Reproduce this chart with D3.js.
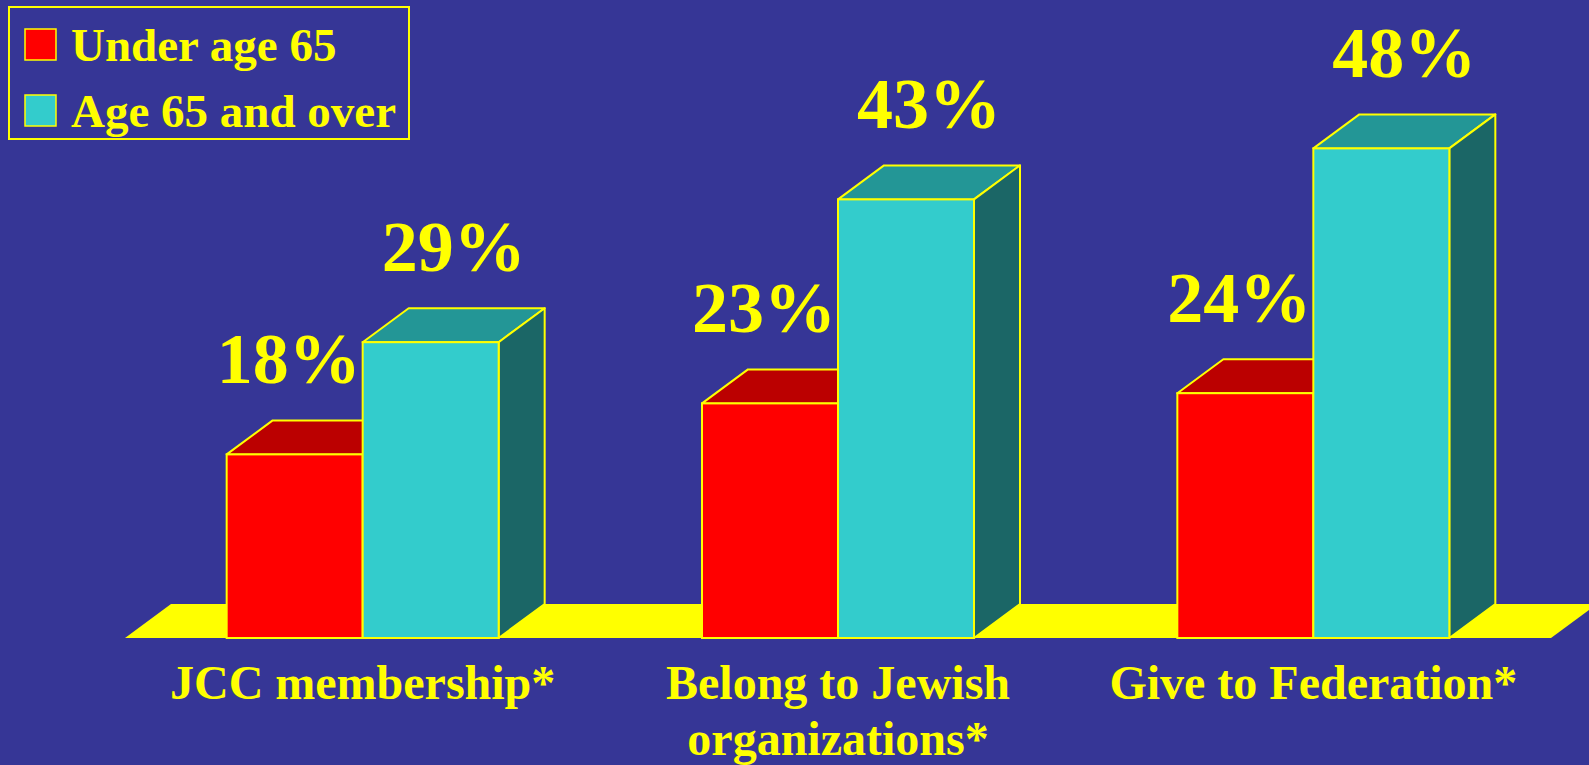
<!DOCTYPE html>
<html>
<head>
<meta charset="utf-8">
<script src="https://cdn.jsdelivr.net/npm/d3@7"></script>
<style>
  html, body { margin: 0; padding: 0; background: #363696; }
  svg { display: block; }
</style>
</head>
<body>
<svg id="chart"></svg>
<script>
const categories = ["JCC membership*", "Belong to Jewish organizations*", "Give to Federation*"];
const categoryLines = [["JCC membership*"], ["Belong to Jewish", "organizations*"], ["Give to Federation*"]];
const series = ["Under age 65", "Age 65 and over"];
const under65 = [18, 23, 24];
const over65 = [29, 43, 48];

const width = 1589, height = 765;
const depth = { x: 46, y: 34 };
const barW = 136;
const font = "'Liberation Serif', 'Times New Roman', serif";

const colors = {
  "Under age 65": { front: "#ff0000", top: "#bb0000", side: "#990000" },
  "Age 65 and over": { front: "#33cccc", top: "#239696", side: "#1b6666" }
};

const svg = d3.select("#chart").attr("width", width).attr("height", height);

const x0 = d3.scaleBand().domain(categories).range([125, 1551]).padding(0);
const x1 = d3
  .scaleBand()
  .domain(series)
  .range([x0.bandwidth() / 2 - barW, x0.bandwidth() / 2 + barW]);
const y = d3.scaleLinear().domain([0, 50]).range([638, 128]);

// floor
const fl = x0.range()[0], fr = x0.range()[1], base = y(0);
svg
  .append("polygon")
  .attr("points", [
    [fl, base], [fr, base],
    [fr + depth.x, base - depth.y], [fl + depth.x, base - depth.y]
  ].join(" "))
  .attr("fill", "#ffff00");

const data = categories.map((c, i) => ({
  category: c,
  values: [
    { key: series[0], value: under65[i] },
    { key: series[1], value: over65[i] }
  ]
}));

const groups = svg
  .selectAll(".bar-group")
  .data(data)
  .enter()
  .append("g")
  .attr("class", "bar-group")
  .attr("transform", (d) => `translate(${x0(d.category)},0)`);

const bars = groups
  .selectAll(".bar")
  .data((d) => d.values)
  .enter()
  .append("g")
  .attr("class", "bar");

// top face
bars
  .append("polygon")
  .attr("points", (d) => {
    const xl = x1(d.key), xr = xl + x1.bandwidth(), yt = y(d.value);
    return [[xl, yt], [xr, yt], [xr + depth.x, yt - depth.y], [xl + depth.x, yt - depth.y]].join(" ");
  })
  .attr("fill", (d) => colors[d.key].top)
  .attr("stroke", "#ffff00")
  .attr("stroke-width", 2)
  .attr("stroke-linejoin", "round");

// side face
bars
  .append("polygon")
  .attr("points", (d) => {
    const xr = x1(d.key) + x1.bandwidth(), yt = y(d.value);
    return [[xr, yt], [xr + depth.x, yt - depth.y], [xr + depth.x, base - depth.y], [xr, base]].join(" ");
  })
  .attr("fill", (d) => colors[d.key].side)
  .attr("stroke", "#ffff00")
  .attr("stroke-width", 2)
  .attr("stroke-linejoin", "round");

// front face
bars
  .append("rect")
  .attr("x", (d) => x1(d.key))
  .attr("y", (d) => y(d.value))
  .attr("width", x1.bandwidth())
  .attr("height", (d) => base - y(d.value))
  .attr("fill", (d) => colors[d.key].front)
  .attr("stroke", "#ffff00")
  .attr("stroke-width", 2);

// value labels
groups
  .selectAll(".value-label")
  .data((d) => d.values)
  .enter()
  .append("text")
  .attr("class", "value-label")
  .attr("x", (d, i) => x1(d.key) + x1.bandwidth() / 2 + (i === 1 ? depth.x / 2 : -6))
  .attr("y", (d) => y(d.value) - depth.y - 37)
  .attr("text-anchor", "middle")
  .style("font-family", font)
  .style("font-weight", "bold")
  .style("font-size", "72px")
  .attr("fill", "#ffff00")
  .text((d) => d.value + "%");

// category labels
const catLabels = svg
  .selectAll(".cat-label")
  .data(categories)
  .enter()
  .append("text")
  .attr("class", "cat-label")
  .attr("x", (d) => x0(d) + x0.bandwidth() / 2)
  .attr("y", 699)
  .attr("text-anchor", "middle")
  .style("font-family", font)
  .style("font-weight", "bold")
  .style("font-size", "48px")
  .attr("fill", "#ffff00");

catLabels
  .selectAll("tspan")
  .data((d, i) => categoryLines[i])
  .enter()
  .append("tspan")
  .attr("x", function () { return d3.select(this.parentNode).attr("x"); })
  .attr("dy", (d, i) => (i === 0 ? 0 : 56))
  .text((d) => d);

// legend
const legend = svg.append("g").attr("class", "legend");
legend
  .append("rect")
  .attr("x", 9)
  .attr("y", 7)
  .attr("width", 400)
  .attr("height", 132)
  .attr("fill", "none")
  .attr("stroke", "#ffff00")
  .attr("stroke-width", 2);

const items = legend
  .selectAll(".legend-item")
  .data(series)
  .enter()
  .append("g")
  .attr("class", "legend-item")
  .attr("transform", (d, i) => `translate(0,${i * 66})`);

items
  .append("rect")
  .attr("x", 25)
  .attr("y", 29)
  .attr("width", 31)
  .attr("height", 31)
  .attr("fill", (d) => colors[d].front)
  .attr("stroke", "#ffff00")
  .attr("stroke-width", 1.5);

items
  .append("text")
  .attr("x", 71)
  .attr("y", 61)
  .style("font-family", font)
  .style("font-weight", "bold")
  .style("font-size", "47px")
  .attr("fill", "#ffff00")
  .text((d) => d);
</script>
</body>
</html>
